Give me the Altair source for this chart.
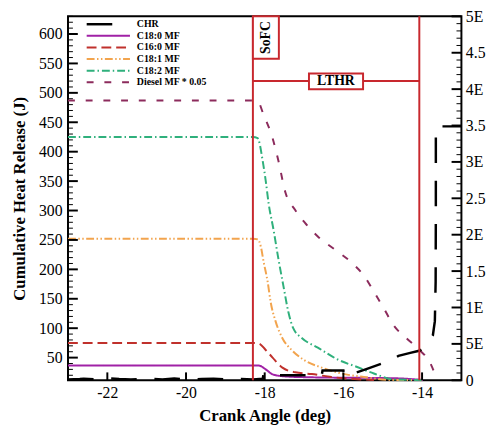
import json
import altair as alt
import pandas as pd

FONT = "Liberation Serif"
RED = "#c8282e"

# ---------------- data ----------------
series = ["CHR", "C18:0 MF", "C16:0 MF", "C18:1 MF", "C18:2 MF", "Diesel MF * 0.05"]
colors = ["#000000", "#a021a6", "#c0312c", "#f2a44e", "#2fb07c", "#8c2b5c"]
dashes = [[26, 18], [1, 0], [10, 5], [8, 2.5, 1.5, 2.5, 1.5, 2.5], [8, 3, 1.5, 3], [7, 11]]

chr_x = [-23.0, -22.7, -22.6, -22.3, -22.0, -21.7, -21.4, -21.0, -20.6, -20.3, -20.0,
         -19.6, -19.3, -19.0, -18.6, -18.3, -18.05, -18.03, -17.9, -16.55, -16.53, -16.0,
         -15.98, -15.7, -15.4, -14.8, -14.6, -14.3, -14.05, -13.9, -13.725, -13.675,
         -13.655, -13.65, -13.65, -13.0]
chr_y = [13, 13.5, 14, 13, 15, 13.5, 13, 14, 13, 14.5, 13, 13.5, 14, 13, 13.5, 13, 14, 22,
         20, 20, 28, 28, 18, 24, 31, 45, 53, 58, 62, 72, 88, 112, 179, 300, 443, 443]

c180_x = [-23.0, -18.3, -18.15, -17.975, -17.8, -17.475, -16.8, -14.725, -13.975]
c180_y = [36.5, 36.5, 36.5, 30, 21.6, 18, 16.5, 15, 12]

c160_x = [-23.0, -18.3, -18.15, -17.975, -17.8, -17.55, -17.225, -16.8, -16.3, -15.225]
c160_y = [75, 75, 74, 63, 50, 33, 25, 22, 17, 12]

c181_x = [-23.0, -18.3, -18.175, -18.1, -18.025, -17.925, -17.85, -17.725, -17.55, -17.3,
          -16.975, -16.55, -15.975, -15.475, -14.725, -14.0]
c181_y = [252, 252, 251, 239, 212, 179, 145, 112, 83, 62, 45, 33, 22, 17, 12, 12]

c182_x = [-23.0, -18.3, -18.18, -18.05, -17.975, -17.9, -17.775, -17.65, -17.525, -17.4,
          -17.275, -17.05, -16.65, -16.15, -15.65, -15.225, -14.725, -14.0]
c182_y = [425, 425, 423, 384, 351, 312, 267, 217, 172, 128, 100, 83, 67, 47, 34, 23, 13, 12]

diesel_x = [-23.0, -18.3, -18.18, -18.03, -17.8, -17.65, -17.475, -17.225, -16.975, -16.65,
            -16.225, -15.8, -15.475, -15.225, -14.975, -14.725, -14.4, -14.05, -13.8,
            -13.675, -13.625]
diesel_y = [487, 487, 486, 463, 423, 384, 331, 301, 279, 256, 234, 212, 189, 162, 134, 105,
            83, 62, 42, 22, 12]

marker_x = [-18.3, -14.07]          # SoFC line, end of LTHR
lthr_y = 520
sofc_box = {"x": -18.3, "x2": -17.64, "y": 558, "y2": 630}
lthr_box = {"x": -16.875, "x2": -15.5, "y": 506, "y2": 533}
sofc_text = {"x": -17.97, "y": 594, "t": "SoFC"}
lthr_text = {"x": -16.19, "y": 519.5, "t": "LTHR"}

x_tick_labels = [-22, -20, -18, -16, -14]
y_tick_labels = [50, 100, 150, 200, 250, 300, 350, 400, 450, 500, 550, 600]
y_minor_ticks = [20, 30, 40, 60, 70, 80, 90, 110, 120, 130, 140, 160, 170, 180, 190, 210, 220,
                 230, 240, 260, 270, 280, 290, 310, 320, 330, 340, 360, 370, 380, 390, 410,
                 420, 430, 440, 460, 470, 480, 490, 510, 520, 530, 540, 560, 570, 580, 590,
                 610, 620, 630]
r_tick_values = [0, 0.5, 1, 1.5, 2, 2.5, 3, 3.5, 4, 4.5, 5]
# right-axis labels as visible in the reference (cut by the picture's edge)
r_tick_text = ["0", "5E", "1E", "1.5", "2E", "2.5", "3E", "3.5", "4E", "4.5", "5E"]
r_minor_ticks = [0.1, 0.2, 0.3, 0.4, 0.6, 0.7, 0.8, 0.9, 1.1, 1.2, 1.3, 1.4, 1.6, 1.7, 1.8,
                 1.9, 2.1, 2.2, 2.3, 2.4, 2.6, 2.7, 2.8, 2.9, 3.1, 3.2, 3.3, 3.4, 3.6, 3.7,
                 3.8, 3.9, 4.1, 4.2, 4.3, 4.4, 4.6, 4.7, 4.8, 4.9]

# ---------------- tables ----------------
mf_parts = []
for name, xs_, ys_ in [(series[1], c180_x, c180_y), (series[2], c160_x, c160_y),
                       (series[3], c181_x, c181_y), (series[4], c182_x, c182_y),
                       (series[5], diesel_x, diesel_y)]:
    mf_parts.append(pd.DataFrame({"series": name, "x": xs_, "y": ys_}))
mf_df = pd.concat(mf_parts, ignore_index=True)
chr_df = pd.DataFrame({"x": chr_x, "y": chr_y, "i": list(range(len(chr_x)))})

W, H = 400, 370

xs = alt.Scale(domain=[-23, -13], nice=False, zero=False)
ys = alt.Scale(domain=[11.5, 630], nice=False, zero=False)
rs = alt.Scale(domain=[0, 5], nice=False, zero=False)

common_axis = dict(ticks=False, tickSize=0, domain=False, grid=False, labelFont=FONT,
                   labelFontSize=16, labelColor="black", titleFont=FONT, titleFontSize=17,
                   titleFontWeight="bold", titleColor="black")
xaxis = alt.Axis(title="Crank Angle (deg)", values=x_tick_labels, labelExpr="'' + datum.value",
                 labelPadding=5, titlePadding=7, **common_axis)
yaxis = alt.Axis(title="Cumulative Heat Release (J)", orient="left", values=y_tick_labels,
                 format="d", labelPadding=6, titlePadding=10, **common_axis)
raxis = alt.Axis(title=None, orient="right", values=r_tick_values,
                 labelExpr=json.dumps(r_tick_text) + "[round(datum.value * 2)]",
                 labelPadding=4, **common_axis)


def X(f):
    return alt.X(f"{f}:Q", scale=xs, axis=xaxis)


def Y(f):
    return alt.Y(f"{f}:Q", scale=ys, axis=yaxis)


mf = alt.Chart(mf_df).mark_line(interpolate="monotone", strokeWidth=2).encode(
    x=X("x"), y=Y("y"),
    color=alt.Color("series:N", scale=alt.Scale(domain=series[1:], range=colors[1:]), legend=None),
    strokeDash=alt.StrokeDash("series:N", scale=alt.Scale(domain=series[1:], range=dashes[1:]), legend=None),
)

chr_line = alt.Chart(chr_df).mark_line(color="black", strokeWidth=2.5, strokeDash=dashes[0]).encode(
    x=X("x"), y=Y("y"), order="i:Q")

vlines = alt.Chart(pd.DataFrame({"x": marker_x})).mark_rule(color=RED, strokeWidth=2).encode(x=X("x"))

hline = alt.Chart(pd.DataFrame({"x": [marker_x[0]], "x2": [marker_x[1]], "y": [lthr_y]})).mark_rule(
    color=RED, strokeWidth=2).encode(x=X("x"), x2="x2:Q", y=Y("y"))

boxes = alt.Chart(pd.DataFrame([sofc_box, lthr_box])).mark_rect(
    fill="white", stroke=RED, strokeWidth=2).encode(x=X("x"), x2="x2:Q", y=Y("y"), y2="y2:Q")

t_sofc = alt.Chart(pd.DataFrame([sofc_text])).mark_text(
    angle=270, font=FONT, fontSize=14, fontWeight="bold", color="black",
    align="center", baseline="middle").encode(x=X("x"), y=Y("y"), text="t:N")
t_lthr = alt.Chart(pd.DataFrame([lthr_text])).mark_text(
    font=FONT, fontSize=14, fontWeight="bold", color="black",
    align="center", baseline="middle").encode(x=X("x"), y=Y("y"), text="t:N")

lmaj = alt.Chart(pd.DataFrame({"v": y_tick_labels})).mark_rule(color="black", strokeWidth=2).encode(
    y=Y("v"), x=alt.value(0), x2=alt.value(10))
lmin = alt.Chart(pd.DataFrame({"v": y_minor_ticks})).mark_rule(color="black", strokeWidth=1).encode(
    y=Y("v"), x=alt.value(0), x2=alt.value(5))
bmaj = alt.Chart(pd.DataFrame({"v": x_tick_labels})).mark_rule(color="black", strokeWidth=2).encode(
    x=X("v"), y=alt.value(H), y2=alt.value(H - 8))

legend_layers = []
for i, name in enumerate(series):
    yy = 8 + i * 11.8
    one = pd.DataFrame({"t": [name]})
    legend_layers.append(
        alt.Chart(one).mark_rule(color=colors[i], strokeWidth=2.5 if i == 0 else 2,
                                 strokeDash=dashes[i]).encode(
            x=alt.value(19), x2=alt.value(63), y=alt.value(yy)))
    legend_layers.append(
        alt.Chart(one).mark_text(font=FONT, fontSize=10, fontWeight="bold", color="black",
                                 align="left", baseline="middle").encode(
            x=alt.value(70), y=alt.value(yy), text="t:N"))

left = alt.layer(mf, chr_line, vlines, hline, boxes, t_sofc, t_lthr, lmaj, lmin, bmaj, *legend_layers)

rmaj = alt.Chart(pd.DataFrame({"v": r_tick_values})).mark_rule(color="black", strokeWidth=2).encode(
    y=alt.Y("v:Q", scale=rs, axis=raxis), x=alt.value(W), x2=alt.value(W - 10))
rmin = alt.Chart(pd.DataFrame({"v": r_minor_ticks})).mark_rule(color="black", strokeWidth=1).encode(
    y=alt.Y("v:Q", scale=rs, axis=raxis), x=alt.value(W), x2=alt.value(W - 5))
right = alt.layer(rmaj, rmin)

chart = alt.layer(left, right).resolve_scale(y="independent").properties(
    width=W, height=H,
    autosize=alt.AutoSizeParams(type="none"),
    padding={"left": 61, "top": 5, "right": 25, "bottom": 43},
).configure_view(stroke="black", strokeWidth=2)

chart.save("out.html", embed_options={"renderer": "svg", "actions": False})
